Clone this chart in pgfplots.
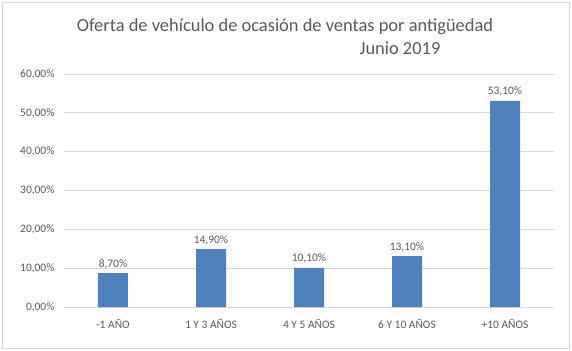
\documentclass[border=0pt]{standalone}
\usepackage{pgfplots}
\pgfplotsset{compat=1.18}
\usepackage{fontspec}
\setmainfont{Carlito}
\definecolor{barblue}{HTML}{4F81BD}
\definecolor{gridgray}{HTML}{D9D9D9}
\definecolor{txtgray}{HTML}{595959}
\definecolor{bordergray}{HTML}{D9D9D9}
\begin{document}
\begin{tikzpicture}
\useasboundingbox (-64bp,-44bp) rectangle (508bp,307bp);
\draw[bordergray, line width=0.75bp] (-62bp,-41bp) rectangle (505bp,305bp);
\begin{axis}[
  at={(0,0)}, anchor=south west,
  scale only axis,
  width=490bp, height=233bp,
  xmin=-0.5, xmax=4.5, ymin=0, ymax=60,
  ybar, bar width=30bp,
  xtick={0,1,2,3,4},
  xticklabels={-1 AÑO, 1 Y 3 AÑOS, 4 Y 5 AÑOS, 6 Y 10 AÑOS, +10 AÑOS},
  ytick={0,10,20,30,40,50,60},
  yticklabels={{0,00\%},{10,00\%},{20,00\%},{30,00\%},{40,00\%},{50,00\%},{60,00\%}},
  ymajorgrids,
  grid style={gridgray, line width=0.75bp},
  axis line style={draw=none},
  major tick style={draw=none},
  ticklabel style={font=\fontsize{11.5}{13}\selectfont, text=txtgray},
  yticklabel style={xshift=-6bp},
  xticklabel style={yshift=-5bp},
  point meta=explicit symbolic,
  nodes near coords,
  nodes near coords style={font=\fontsize{11.5}{13}\selectfont, text=txtgray, yshift=1bp},
  clip=false,
]
\addplot[fill=barblue, draw=none] coordinates {
  (0,8.7) [8,70\%]
  (1,14.9) [14,90\%]
  (2,10.1) [10,10\%]
  (3,13.1) [13,10\%]
  (4,53.1) [53,10\%]
};
\end{axis}
\node[text=txtgray, font=\fontsize{18.5}{20}\selectfont] at (221bp,280bp) {Oferta de vehículo de ocasión de ventas por antigüedad};
\node[text=txtgray, font=\fontsize{18.5}{20}\selectfont] at (336bp,259bp) {Junio 2019};
\end{tikzpicture}
\end{document}
